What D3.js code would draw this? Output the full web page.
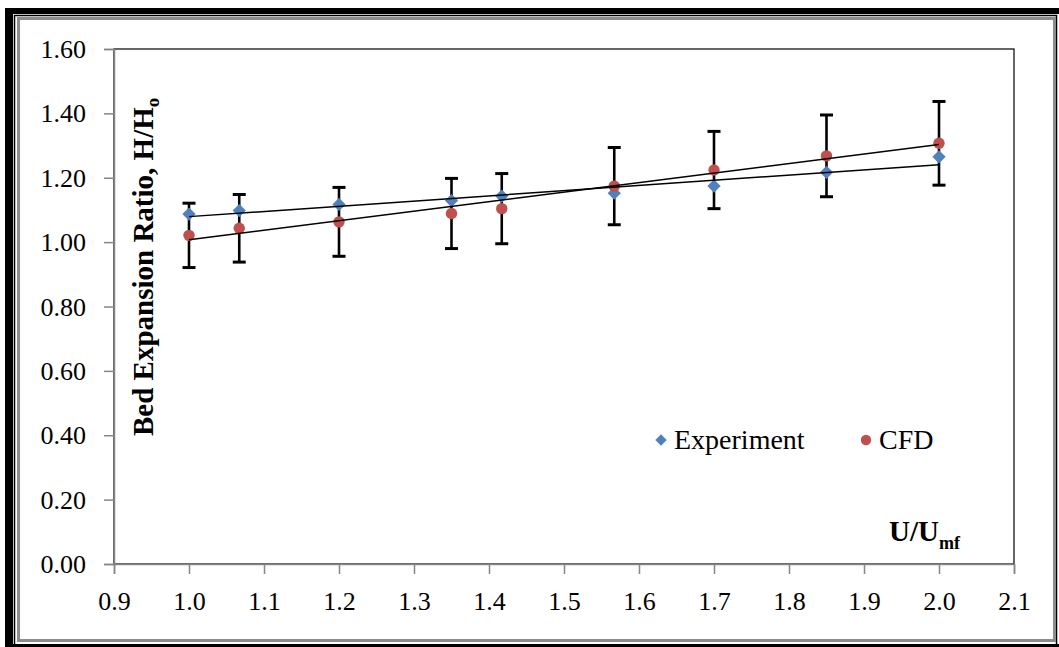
<!DOCTYPE html>
<html>
<head>
  <meta charset="utf-8">
  <title>Bed Expansion Ratio vs U/Umf</title>
  <script src="https://d3js.org/d3.v7.min.js"></script>
  <style>
    html, body {
      margin: 0;
      padding: 0;
      background: #fff;
    }
    svg { display: block; }
    text {
      font-family: "Liberation Serif", "Times New Roman", serif;
      fill: #000;
    }
    .tick-label { font-size: 26px; }
    .axis-title { font-size: 29px; font-weight: bold; }
    .legend-label { font-size: 28px; }
  </style>
</head>
<body>
  <svg id="chart" width="1059" height="647"></svg>

  <script>
    // values
    const velocityRatio = [1.0, 1.067, 1.2, 1.35, 1.417, 1.567, 1.7, 1.85, 2.0];
    const experiment = [1.087, 1.098, 1.117, 1.129, 1.143, 1.152, 1.174, 1.217, 1.265];
    const cfd = [1.021, 1.043, 1.063, 1.089, 1.104, 1.174, 1.224, 1.268, 1.307];
    const cfdError = [0.100, 0.105, 0.107, 0.109, 0.109, 0.120, 0.120, 0.127, 0.130];
    const xTicks = [0.9, 1.0, 1.1, 1.2, 1.3, 1.4, 1.5, 1.6, 1.7, 1.8, 1.9, 2.0, 2.1];
    const yTicks = [0, 0.2, 0.4, 0.6, 0.8, 1.0, 1.2, 1.4, 1.6];
    const seriesNames = ["Experiment", "CFD"];

    const blue = "#4F81BD", red = "#C0504D", axisGrey = "#868686";

    const svg = d3.select("#chart");

    // frame around the whole picture
    svg.append("rect").attr("x", 5).attr("y", 8).attr("width", 8).attr("height", 639).attr("fill", "#000");
    svg.append("rect").attr("x", 5).attr("y", 8).attr("width", 1054).attr("height", 6).attr("fill", "#000");
    svg.append("rect").attr("x", 14.5).attr("y", 15.5).attr("width", 1042).attr("height", 630)
      .attr("fill", "none").attr("stroke", "#000").attr("stroke-width", 1.5);
    svg.append("rect").attr("x", 18.5).attr("y", 18.5).attr("width", 1036).attr("height", 622)
      .attr("fill", "none").attr("stroke", "#8c8c8c").attr("stroke-width", 3);
    svg.append("rect").attr("x", 5).attr("y", 644).attr("width", 1054).attr("height", 3).attr("fill", "#000");

    const x = d3.scaleLinear().domain([0.9, 2.1]).range([114, 1014]);
    const y = d3.scaleLinear().domain([0, 1.6]).range([564, 49]);

    // plot area border (top/right black)
    svg.append("rect")
      .attr("x", x(0.9)).attr("y", y(1.6))
      .attr("width", x(2.1) - x(0.9)).attr("height", y(0) - y(1.6))
      .attr("fill", "none").attr("stroke", "#000").attr("stroke-width", 1.2);

    // axes
    const xAxis = svg.append("g")
      .attr("transform", `translate(0,${y(0)})`)
      .call(d3.axisBottom(x).tickValues(xTicks).tickFormat(d3.format(".1f")).tickSize(10).tickPadding(18));
    const yAxis = svg.append("g")
      .attr("transform", `translate(${x(0.9)},0)`)
      .call(d3.axisLeft(y).tickValues(yTicks).tickFormat(d3.format(".2f")).tickSize(10).tickPadding(18));

    [xAxis, yAxis].forEach(a => {
      a.select(".domain").attr("stroke", axisGrey).attr("stroke-width", 1.5);
      a.selectAll(".tick line").attr("stroke", axisGrey).attr("stroke-width", 1.5);
      a.selectAll(".tick text")
        .attr("class", "tick-label")
        .attr("font-family", null).attr("font-size", null)
        .attr("fill", "#000");
    });
    yAxis.selectAll(".tick text").attr("dy", "0.33em");

    // error bars on CFD
    const errG = svg.append("g");
    velocityRatio.forEach((v, i) => {
      const top = y(cfd[i] + cfdError[i]), bot = y(cfd[i] - cfdError[i]);
      errG.append("line").attr("x1", x(v)).attr("x2", x(v)).attr("y1", top).attr("y2", bot)
        .attr("stroke", "#000").attr("stroke-width", 2.6);
      [top, bot].forEach(py => {
        errG.append("line").attr("x1", x(v) - 6.5).attr("x2", x(v) + 6.5).attr("y1", py).attr("y2", py)
          .attr("stroke", "#000").attr("stroke-width", 3);
      });
    });

    // markers
    const diamond = d3.symbol(d3.symbolSquare, 88);
    svg.append("g").selectAll("path")
      .data(velocityRatio)
      .join("path")
      .attr("d", diamond)
      .attr("transform", (d, i) => `translate(${x(d)},${y(experiment[i])}) rotate(45)`)
      .attr("fill", blue);

    svg.append("g").selectAll("circle")
      .data(velocityRatio)
      .join("circle")
      .attr("cx", d => x(d))
      .attr("cy", (d, i) => y(cfd[i]))
      .attr("r", 5.7)
      .attr("fill", red);

    // linear trendlines (least squares over each series)
    function fit(xs, ys) {
      const mx = d3.mean(xs), my = d3.mean(ys);
      const slope = d3.sum(xs, (v, i) => (v - mx) * (ys[i] - my)) / d3.sum(xs, v => (v - mx) ** 2);
      return v => my + slope * (v - mx);
    }
    const xRange = d3.extent(velocityRatio);
    [experiment, cfd].forEach(series => {
      const f = fit(velocityRatio, series);
      svg.append("line")
        .attr("x1", x(xRange[0])).attr("y1", y(f(xRange[0])))
        .attr("x2", x(xRange[1])).attr("y2", y(f(xRange[1])))
        .attr("stroke", "#000").attr("stroke-width", 1.5);
    });

    // axis titles
    svg.append("text")
      .attr("class", "axis-title")
      .attr("transform", "translate(153,436) rotate(-90)")
      .text("Bed Expansion Ratio, H/H")
      .append("tspan").attr("font-size", "19px").attr("dy", "6").text("o");

    const xt = svg.append("text")
      .attr("class", "axis-title")
      .attr("x", 889).attr("y", 541)
      .attr("font-size", "25px");
    xt.append("tspan").text("U/U");
    xt.append("tspan").attr("font-size", "18px").attr("dy", "8").text("mf");

    // legend
    const legend = svg.append("g");
    legend.append("path")
      .attr("d", d3.symbol(d3.symbolSquare, 64))
      .attr("transform", "translate(661,440) rotate(45)")
      .attr("fill", blue);
    legend.append("circle").attr("cx", 866).attr("cy", 440).attr("r", 5.2).attr("fill", red);
    legend.selectAll("text.legend-label")
      .data(seriesNames)
      .join("text")
      .attr("class", "legend-label")
      .attr("x", (d, i) => i === 0 ? 674 : 879)
      .attr("y", 449)
      .text(d => d);
  </script>
</body>
</html>
